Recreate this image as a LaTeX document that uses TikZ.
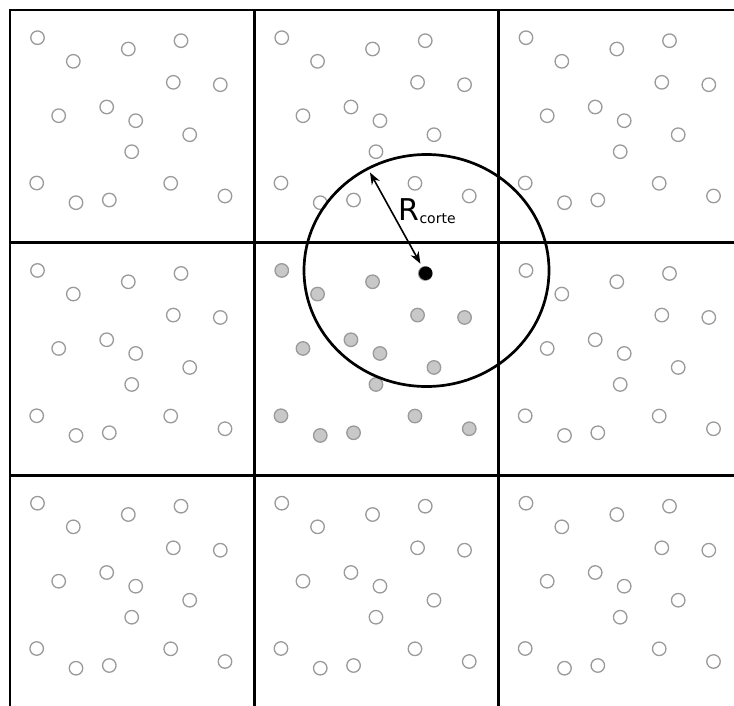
\documentclass[tikz,border=0pt]{standalone}
\usepackage{fontspec}
\newfontfamily\labelfont{DejaVu Sans}
\usetikzlibrary{arrows.meta}
\definecolor{partgray}{HTML}{9A9A9A}
\definecolor{partfill}{HTML}{C8C8C8}
\tikzset{
  particle/.style={circle,draw=partgray,line width=1.3pt,minimum size=13.5pt,inner sep=0pt},
  inside/.style={particle,fill=partfill},
  cellline/.style={line width=2.7pt,line cap=rect},
}
\begin{document}
\begin{tikzpicture}[x=1pt,y=-1pt]
\useasboundingbox (0,0) rectangle (734,705);
\clip (0,0) rectangle (734,705);
% cell borders
\foreach \gx in {10,254.25,498.5} \draw[cellline] (\gx,10) -- (\gx,720);
\foreach \gy in {10,242.75,475.5} \draw[cellline] (10,\gy) -- (750,\gy);
% same particle pattern in every cell, filled in the middle one
\foreach \cx/\cy [count=\c] in {10/10,254.25/10,498.5/10,10/242.75,254.25/242.75,498.5/242.75,10/475.5,254.25/475.5,498.5/475.5}{
  \foreach \px/\py [count=\k] in {27.5/27.7,63.3/51.3,118.3/39,171/30.7,163.3/72.3,210.3/74.7,48.7/105.7,96.7/97,
      125.7/110.7,179.7/124.7,121.7/141.7,26.7/173,66/192.7,99.3/190,160.7/173.3,215/186}{
    \ifnum\c=5 \node[inside] (p\c-\k) at (\cx+\px,\cy+\py) {};
    \else \node[particle] (p\c-\k) at (\cx+\px,\cy+\py) {}; \fi
  }
}
% cut-off sphere
\node[circle,fill=black,minimum size=13.5pt,inner sep=0pt] (ctr) at (425.7,273.3) {};
\draw[line width=2.7pt] (426.5,270.5) ellipse [x radius=122.5, y radius=116];
\coordinate (rim) at (370,172.5);
\draw[{Stealth[length=12pt,width=9pt]}-{Stealth[length=12pt,width=9pt]},line width=1.6pt,shorten >=4pt] (rim) -- (ctr);
\node[anchor=base west,inner sep=0pt,font=\labelfont] (rlabel) at (398.5,220)
  {\fontsize{30}{30}\selectfont R\raisebox{-3.5pt}{\fontsize{14}{14}\selectfont corte}};
\end{tikzpicture}
\end{document}
